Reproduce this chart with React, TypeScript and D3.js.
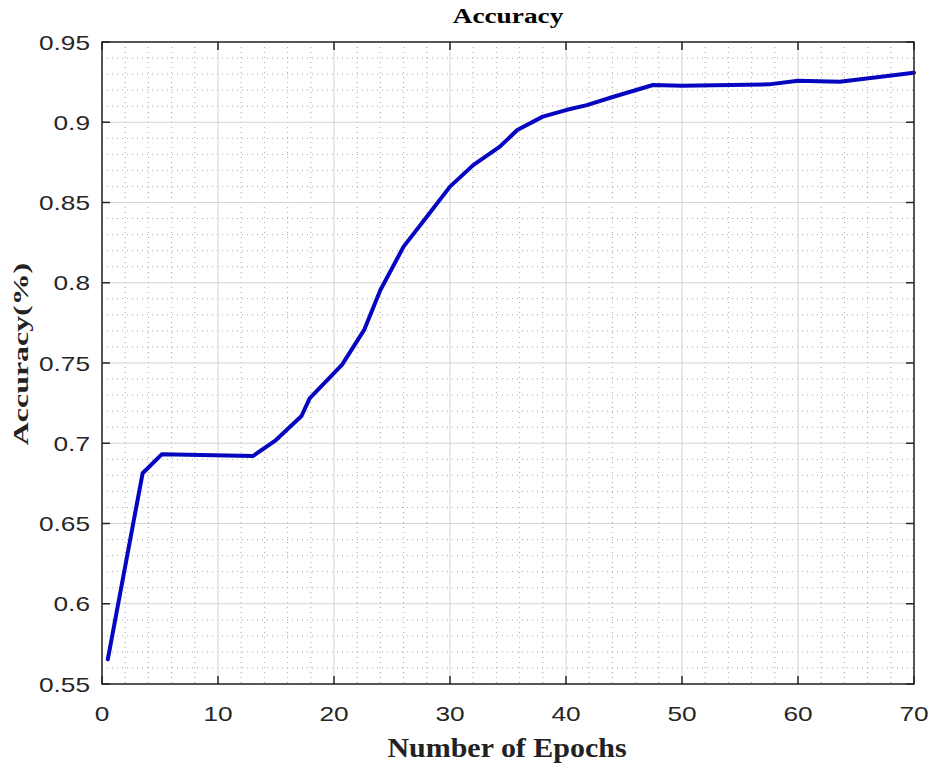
import React from "react";
import * as d3 from "d3";

const epochs = [0.5, 3.5, 5.15, 13, 15, 17.2, 17.9, 20.7, 22.6, 24, 26, 28, 30, 32, 34.3, 35.8, 38, 40, 41.8, 44.1, 47.5, 50, 57.5, 60, 63.6, 70];
const accuracy = [0.5654, 0.6813, 0.6931, 0.692, 0.702, 0.717, 0.728, 0.749, 0.7706, 0.7955, 0.8225, 0.8411, 0.8599, 0.8733, 0.8848, 0.8952, 0.9035, 0.9076, 0.9107, 0.9159, 0.9232, 0.9228, 0.9236, 0.9259, 0.9253, 0.9309];
const xTicks = [0, 10, 20, 30, 40, 50, 60, 70];
const yTicks = [0.55, 0.6, 0.65, 0.7, 0.75, 0.8, 0.85, 0.9, 0.95];
const yTickLabels = ["0.55", "0.6", "0.65", "0.7", "0.75", "0.8", "0.85", "0.9", "0.95"];

const W = 935, H = 765;
const L = 102, R = 914, T = 42, B = 684;
const SANS = "'Liberation Sans', Arial, sans-serif";
const SERIF = "'Liberation Serif', 'Times New Roman', serif";

export default function App() {
  const x = d3.scaleLinear().domain([0, 70]).range([L, R]);
  const y = d3.scaleLinear().domain([0.55, 0.95]).range([B, T]);
  const line = d3.line<number>().x((_, i) => x(epochs[i])).y((d) => y(d));
  const xMinor = d3.range(0, 70.001, 2).filter((v) => v % 10 !== 0);
  const yMinor = d3.range(55, 95.001, 1).map((v) => v / 100).filter((v) => Math.round(v * 100) % 5 !== 0);
  const tickLen = 8;
  return (
    <svg width={W} height={H} style={{ position: "absolute", left: 0, top: 0, background: "#fff" }}>
      <rect x={0} y={0} width={W} height={H} fill="#fff" />
      {xMinor.map((v) => (
        <line key={"xm" + v} x1={x(v)} x2={x(v)} y1={T} y2={B} stroke="#a8a8a8" strokeWidth={1} strokeDasharray="1,4" />
      ))}
      {yMinor.map((v) => (
        <line key={"ym" + v} x1={L} x2={R} y1={y(v)} y2={y(v)} stroke="#a8a8a8" strokeWidth={1} strokeDasharray="1,4" />
      ))}
      {xTicks.map((v) => (
        <line key={"xg" + v} x1={x(v)} x2={x(v)} y1={T} y2={B} stroke="#d4d4d4" strokeWidth={1} />
      ))}
      {yTicks.map((v) => (
        <line key={"yg" + v} x1={L} x2={R} y1={y(v)} y2={y(v)} stroke="#d4d4d4" strokeWidth={1} />
      ))}
      <path d={line(accuracy) || ""} fill="none" stroke="#0606c0" strokeWidth={4} strokeLinejoin="round" strokeLinecap="round" />
      <rect x={L} y={T} width={R - L} height={B - T} fill="none" stroke="#262626" strokeWidth={1.5} />
      {xTicks.map((v) => (
        <g key={"xt" + v}>
          <line x1={x(v)} x2={x(v)} y1={B} y2={B - tickLen} stroke="#262626" strokeWidth={1.5} />
          <line x1={x(v)} x2={x(v)} y1={T} y2={T + tickLen} stroke="#262626" strokeWidth={1.5} />
          <text transform={`translate(${x(v)},721) scale(1.25,1)`} textAnchor="middle" fontFamily={SANS} fontSize={21} fill="#262626">{v}</text>
        </g>
      ))}
      {yTicks.map((v, i) => (
        <g key={"yt" + v}>
          <line x1={L} x2={L + tickLen} y1={y(v)} y2={y(v)} stroke="#262626" strokeWidth={1.5} />
          <line x1={R} x2={R - tickLen} y1={y(v)} y2={y(v)} stroke="#262626" strokeWidth={1.5} />
          <text transform={`translate(90,${y(v)}) scale(1.25,1)`} dy="0.36em" textAnchor="end" fontFamily={SANS} fontSize={21} fill="#262626">{yTickLabels[i]}</text>
        </g>
      ))}
      <text transform={`translate(508,23) scale(1.3,1)`} textAnchor="middle" fontFamily={SERIF} fontWeight="bold" fontSize={21} fill="#000">Accuracy</text>
      <text transform={`translate(507,757) scale(1.11,1)`} textAnchor="middle" fontFamily={SERIF} fontWeight="bold" fontSize={27} fill="#222">Number of Epochs</text>
      <text transform={`translate(28,354) rotate(-90) scale(1.45,1)`} textAnchor="middle" fontFamily={SERIF} fontWeight="bold" fontSize={22} fill="#222">Accuracy(%)</text>
    </svg>
  );
}
